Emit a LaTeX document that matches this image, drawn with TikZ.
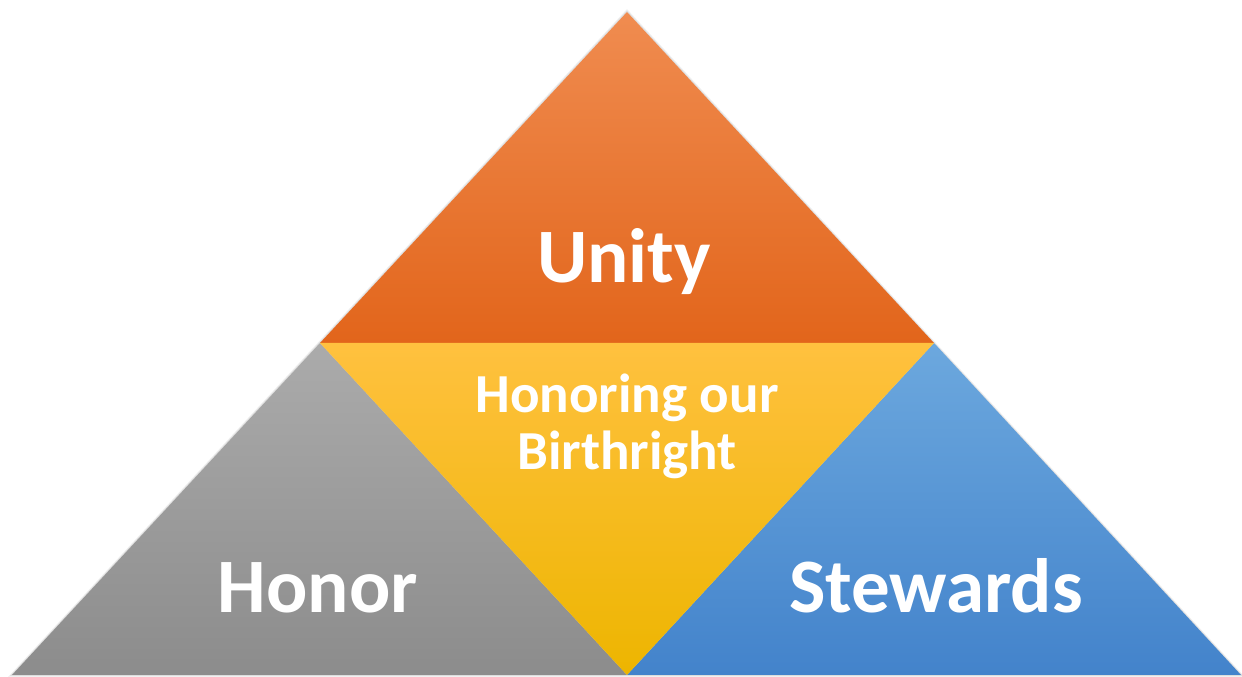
\documentclass[tikz,border=0pt]{standalone}
\usepackage{fontspec}
\setmainfont{Carlito}
\usetikzlibrary{calc}
\definecolor{orTop}{HTML}{F08C50}
\definecolor{orBot}{HTML}{E2651B}
\definecolor{yeTop}{HTML}{FFC13F}
\definecolor{yeBot}{HTML}{EDB500}
\definecolor{grTop}{HTML}{ABABAB}
\definecolor{grBot}{HTML}{8C8C8C}
\definecolor{blTop}{HTML}{6CA8DE}
\definecolor{blBot}{HTML}{4383CB}
\tikzset{
  bigtxt/.style={text=white, font=\bfseries\fontsize{77}{80}\selectfont, inner sep=0pt, anchor=base},
  midtxt/.style={text=white, font=\bfseries\fontsize{55}{57}\selectfont, inner sep=0pt, align=center},
  piece/.style={draw=none}
}
\begin{document}
\begin{tikzpicture}[x=1pt,y=1pt]
\useasboundingbox (0,0) rectangle (1242,677);
\coordinate (A) at (627,665);
\coordinate (L) at (12,2);
\coordinate (R) at (1241,2);
\coordinate (ML) at (320,334);
\coordinate (MR) at (934,334);
\coordinate (B) at (627,2);
% soft shadow
\fill[black, opacity=0.06] ($(A)+(0,3)$) -- ($(L)+(-4,-2)$) -- ($(R)+(4,-2)$) -- cycle;
\fill[black, opacity=0.08] ($(A)+(0,1.5)$) -- ($(L)+(-2,-1)$) -- ($(R)+(2,-1)$) -- cycle;
% pieces
\shade[piece, top color=orTop, bottom color=orBot] (A) -- (ML) -- (MR) -- cycle;
\shade[piece, top color=grTop, bottom color=grBot] (ML) -- (L) -- (B) -- cycle;
\shade[piece, top color=blTop, bottom color=blBot] (MR) -- (B) -- (R) -- cycle;
\shade[piece, top color=yeTop, bottom color=yeBot] (ML) -- (MR) -- (B) -- cycle;
% texts
\node[bigtxt] (unity) at (624,394) {Unity};
\node[bigtxt] (honor) at (318,64) {Honor};
\node[bigtxt] (stewards) at (936,64) {Stewards};
\node[midtxt] (birth) at (627,251) {Honoring our\\Birthright};
\end{tikzpicture}
\end{document}
